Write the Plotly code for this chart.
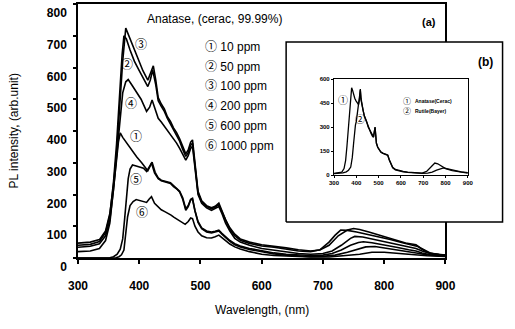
import plotly.graph_objects as go

# ---------------- data ----------------
conc_labels = ["\u2460 10 ppm", "\u2461 50 ppm", "\u2462 100 ppm", "\u2463 200 ppm", "\u2464 600 ppm", "\u2465 1000 ppm"]

s_10ppm = [(300,20),(320,22),(335,30),(345,55),(352,110),(358,210),(363,310),(366,365),(369,394),(373,380),(380,360),(388,338),(396,318),(404,300),(410,285),(414,275),(418,290),(421,302),(426,270),(431,252),(436,245),(441,242),(446,240),(451,237),(456,228),(461,220),(466,210),(471,190),(476,155),(480,165),(484,185),(487,188),(491,150),(496,115),(502,95),(510,85),(518,82),(524,84),(530,88),(535,78),(541,66),(548,55),(556,45),(565,38),(580,30),(600,22),(620,16),(640,12),(660,9),(680,8),(700,9),(715,14),(730,25),(745,40),(758,49),(766,51),(780,48),(800,42),(820,34),(840,26),(852,22),(862,16),(875,10),(890,7),(900,6)]
s_50ppm = [(300,40),(320,43),(335,52),(345,80),(352,135),(358,240),(363,360),(368,520),(372,640),(375,700),(379,690),(385,655),(392,620),(400,590),(408,560),(414,540),(418,560),(422,592),(427,545),(431,495),(436,478),(441,462),(446,440),(451,422),(456,403),(461,388),(466,368),(471,342),(476,320),(480,332),(484,355),(487,362),(491,292),(496,205),(502,176),(510,162),(518,155),(524,160),(530,168),(535,146),(541,116),(548,90),(556,70),(565,56),(580,46),(600,38),(620,34),(640,28),(660,22),(680,20),(695,26),(710,50),(720,72),(729,88),(740,87),(755,82),(770,76),(790,67),(810,58),(830,48),(845,40),(855,36),(865,26),(875,16),(890,11),(900,9)]
s_100ppm = [(300,47),(320,50),(335,58),(345,85),(352,140),(358,230),(363,330),(368,470),(373,620),(378,724),(383,700),(390,665),(398,625),(406,590),(414,560),(418,580),(423,605),(427,560),(431,505),(436,485),(441,470),(446,445),(451,430),(456,410),(461,395),(466,375),(471,350),(476,328),(480,340),(484,365),(487,372),(491,300),(496,210),(502,180),(510,165),(518,158),(524,163),(530,173),(535,150),(541,120),(548,95),(556,75),(565,60),(580,50),(600,42),(620,38),(640,32),(660,26),(680,22),(695,25),(710,40),(725,70),(740,88),(750,93),(760,90),(775,82),(790,73),(805,64),(820,55),(835,47),(845,44),(852,42),(860,30),(870,18),(880,13),(890,10),(900,9)]
s_200ppm = [(300,34),(320,37),(335,45),(345,70),(352,120),(358,215),(363,320),(368,430),(373,520),(378,555),(382,562),(388,545),(395,525),(403,500),(412,462),(417,475),(421,498),(426,468),(431,440),(436,428),(441,415),(446,400),(451,388),(456,375),(461,362),(466,345),(471,325),(476,308),(480,322),(484,345),(487,352),(491,285),(496,200),(502,172),(510,158),(518,150),(524,155),(530,162),(535,140),(541,110),(548,85),(556,62),(565,50),(580,40),(600,30),(620,24),(640,18),(660,14),(680,12),(700,14),(715,22),(730,40),(745,62),(752,68),(765,66),(780,60),(800,52),(820,43),(840,34),(852,30),(862,22),(875,14),(890,10),(900,8)]
s_600ppm = [(300,0),(340,0),(352,1),(358,4),(364,12),(369,28),(373,60),(376,120),(379,190),(382,250),(385,280),(389,293),(395,290),(401,287),(407,283),(412,273),(416,285),(420,299),(425,268),(431,250),(436,243),(441,240),(446,238),(451,235),(456,225),(461,218),(466,208),(471,185),(476,150),(480,162),(484,183),(487,185),(491,148),(496,112),(502,92),(510,82),(518,79),(524,81),(530,85),(535,75),(541,63),(548,52),(556,42),(565,35),(580,27),(600,19),(620,13),(640,9),(660,6),(680,4),(700,5),(720,9),(740,18),(755,27),(770,35),(785,36),(800,32),(820,26),(840,20),(855,15),(870,10),(885,7),(900,6)]
s_1000ppm = [(300,0),(355,0),(362,1),(367,4),(371,10),(375,25),(378,70),(381,130),(385,165),(390,178),(395,184),(401,180),(407,177),(412,175),(416,185),(420,193),(425,172),(431,160),(436,152),(441,147),(446,142),(452,135),(457,128),(463,120),(469,112),(475,106),(480,115),(484,126),(487,124),(491,100),(496,82),(502,70),(510,64),(518,63),(524,67),(530,72),(535,64),(541,55),(548,44),(556,35),(565,28),(580,20),(600,12),(620,8),(650,5),(680,3),(710,3),(740,7),(760,12),(780,18),(800,18),(820,15),(845,11),(870,7),(900,5)]

inset_labels = ["Anatase(Cerac)", "Rutile(Bayer)"]
s_anatase = [(300,10),(320,14),(335,18),(345,40),(352,90),(358,180),(364,300),(370,430),(375,510),(379,545),(383,530),(388,500),(393,480),(398,465),(403,450),(410,440),(414,470),(418,537),(421,480),(425,430),(430,405),(436,370),(441,355),(447,330),(453,300),(460,280),(466,262),(472,245),(477,238),(481,275),(484,300),(487,250),(490,200),(496,175),(503,158),(510,145),(519,137),(527,132),(535,128),(541,125),(548,95),(556,65),(563,48),(575,35),(590,28),(610,22),(630,18),(660,14),(695,12),(715,22),(730,45),(742,65),(752,75),(765,70),(780,55),(800,40),(830,28),(860,20),(880,15),(900,12)]
s_rutile = [(300,8),(320,10),(340,13),(355,20),(365,30),(375,50),(382,110),(388,200),(392,265),(396,312),(400,335),(404,372),(408,430),(411,468),(414,485),(418,530),(421,470),(425,440),(430,400),(436,368),(441,352),(447,328),(453,298),(460,278),(466,260),(472,243),(477,236),(481,272),(484,298),(487,248),(490,198),(496,172),(503,155),(510,142),(519,135),(527,130),(535,126),(541,122),(548,92),(556,62),(563,45),(575,32),(590,25),(610,20),(630,16),(660,12),(695,10),(720,12),(740,18),(760,30),(780,40),(791,44),(810,38),(840,28),(870,20),(900,15)]

main_x_ticks = [300, 400, 500, 600, 700, 800, 900]
main_y_ticks = [0, 100, 200, 300, 400, 500, 600, 700, 800]
inset_y_ticks = [0, 150, 300, 450, 600]

# ---------------- layout constants (pixels) ----------------
W, H = 515, 329
L, R, T, B = 78, 0, 4, 71
PW, PH = W - L - R, H - T - B

def px(x):
    return (x - L) / PW

def py(y):
    return (H - B - y) / PH

FONT = "Liberation Sans, Arial, Noto Sans CJK SC, sans-serif"

fig = go.Figure()

series = [s_10ppm, s_50ppm, s_100ppm, s_200ppm, s_600ppm, s_1000ppm]
for name, s in zip(conc_labels, series):
    fig.add_trace(go.Scatter(x=[p[0] for p in s], y=[p[1] for p in s], mode="lines",
                             line=dict(color="black", width=1.6), name=name,
                             xaxis="x", yaxis="y", showlegend=False))

# white panel for the inset (drawn on its own subplot above the main curves)
bx0, bx1, by0, by1 = px(291), px(512.5), py(222), py(42)
fig.add_trace(go.Scatter(x=[bx0, bx1, bx1, bx0, bx0], y=[by0, by0, by1, by1, by0],
                         mode="lines", fill="toself", fillcolor="white",
                         line=dict(color="black", width=1.5),
                         xaxis="x2", yaxis="y2", showlegend=False, hoverinfo="skip"))

for name, s in zip(inset_labels, [s_anatase, s_rutile]):
    fig.add_trace(go.Scatter(x=[p[0] for p in s], y=[p[1] for p in s], mode="lines",
                             line=dict(color="black", width=1.3), name=name,
                             xaxis="x3", yaxis="y3", showlegend=False))

axis_common = dict(showline=True, linecolor="black", mirror=True, showgrid=False,
                   zeroline=False, ticks="outside", tickcolor="black")

fig.update_layout(
    width=W, height=H,
    margin=dict(l=L, r=R, t=T, b=B, pad=0),
    paper_bgcolor="white", plot_bgcolor="rgba(0,0,0,0)",
    font=dict(family=FONT, color="black"),
    xaxis=dict(domain=[0, px(454)], range=[300, 900], tickvals=main_x_ticks,
               linewidth=1.5, ticklen=4, tickwidth=1.5,
               tickfont=dict(size=12, family=FONT, weight="bold"),
               ticklabelstandoff=12, **axis_common),
    yaxis=dict(domain=[0, 1], range=[0, 800], tickvals=main_y_ticks,
               linewidth=1.5, ticklen=3, tickwidth=1.5,
               tickfont=dict(size=12, family=FONT, weight="bold"),
               ticklabelshift=9, ticklabelstandoff=4, **axis_common),
    xaxis2=dict(domain=[0, 1], range=[0, 1], visible=False, fixedrange=True),
    yaxis2=dict(domain=[0, 1], range=[0, 1], visible=False, fixedrange=True, anchor="x2"),
    xaxis3=dict(domain=[px(340), px(477)], range=[300, 900], tickvals=main_x_ticks,
                anchor="y3", linewidth=1.2, ticklen=2, tickwidth=1,
                tickfont=dict(size=6, family=FONT, weight="bold"), **axis_common),
    yaxis3=dict(domain=[py(175), py(79)], range=[0, 600], tickvals=inset_y_ticks,
                anchor="x3", linewidth=1.2, ticklen=2, tickwidth=1,
                tickfont=dict(size=6, family=FONT, weight="bold"), **axis_common),
)

ann = []
def text(x, y, s, size=12, anchor="center", bold=False):
    ann.append(dict(x=px(x), y=py(y), xref="paper", yref="paper", text=s, showarrow=False,
                    xanchor=anchor, yanchor="middle",
                    font=dict(size=size, family=FONT, color="black", weight="bold" if bold else "normal")))

text(147, 19, "Anatase, (cerac, 99.99%)", 12, "left")
for i, (lab, yy) in enumerate(zip(conc_labels, [47, 67, 86, 106, 126, 146])):
    text(206, yy, lab, 12, "left")
curve_marks = [("\u2462", 142, 45), ("\u2461", 128, 65), ("\u2463", 132, 104),
               ("\u2460", 137, 137), ("\u2464", 137, 180), ("\u2465", 143, 213)]
for s, x, y in curve_marks:
    text(x, y, s, 12)
text(437, 22, "(a)", 11, bold=True)
text(495, 62, "(b)", 12, bold=True)
text(349, 100, "\u2460", 10)
text(367, 119, "\u2461", 10)
text(415, 101, "\u2460", 8)
text(415, 111, "\u2461", 8)
text(421, 101, inset_labels[0], 5, "left", bold=True)
text(421, 111, inset_labels[1], 5, "left", bold=True)
text(266, 310, "Wavelength, (nm)", 12)
ann.append(dict(x=px(13), y=py(131), xref="paper", yref="paper", text="PL intensity, (arb.unit)",
                showarrow=False, textangle=-90, xanchor="center", yanchor="middle",
                font=dict(size=12, family=FONT, color="black")))
fig.update_layout(annotations=ann)

fig.write_html("out.html")
